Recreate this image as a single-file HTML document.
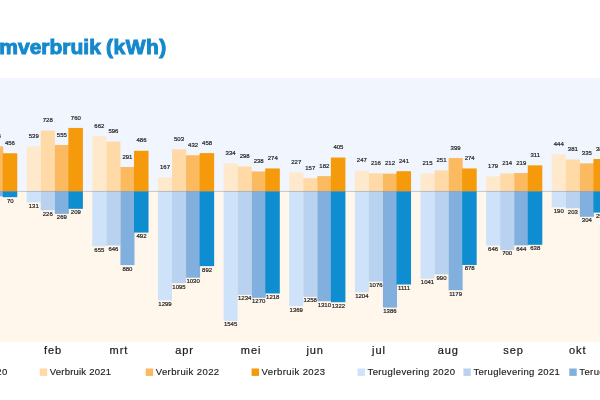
<!DOCTYPE html>
<html lang="nl">
<head>
<meta charset="utf-8">
<title>Stroomverbruik (kWh)</title>
<style>
html,body{margin:0;padding:0;background:#fff;}
body{width:600px;height:400px;overflow:hidden;}
svg{display:block;}
text{font-family:"Liberation Sans",sans-serif;}
.t{font-weight:bold;font-size:21px;fill:#1489cc;stroke:#1489cc;stroke-width:1.0px;letter-spacing:0px;}
.t2{letter-spacing:0.5px;}
.l{font-size:6px;fill:#262626;stroke:#262626;stroke-width:0.2px;text-anchor:middle;letter-spacing:0px;}
.m{font-size:11px;fill:#1c1c1c;stroke:#1c1c1c;stroke-width:0.22px;letter-spacing:0.95px;}
.g{font-size:9.5px;fill:#1c1c1c;stroke:#1c1c1c;stroke-width:0.15px;letter-spacing:0.21px;}
.g2{letter-spacing:0.33px;}
.g3{letter-spacing:0.4px;}
.g4{letter-spacing:0.39px;}
</style>
</head>
<body>
<svg width="600" height="400" viewBox="0 0 600 400">
<text class="t" x="-55.5" y="54.3">Stroomverbruik <tspan class="t2" x="106.0">(kWh)</tspan></text>
<rect x="-100" y="78" width="800" height="113.30" fill="#f1f5fd"/>
<rect x="-100" y="191.3" width="800" height="150.70" fill="#fff6ec"/>
<g>
<rect x="-10.83" y="146.43" width="14.05" height="44.87" fill="#fbba60"/>
<rect x="-10.83" y="191.30" width="14.05" height="5.03" fill="#82b0de"/>
<rect x="2.72" y="153.27" width="14.55" height="38.03" fill="#f59a0a"/>
<rect x="2.72" y="191.30" width="14.55" height="5.87" fill="#0e8dd0"/>
<rect x="26.70" y="146.35" width="14.05" height="44.95" fill="#ffe9cc"/>
<rect x="26.70" y="191.30" width="14.05" height="10.99" fill="#cee2f9"/>
<rect x="40.75" y="130.58" width="14.05" height="60.72" fill="#ffd9a6"/>
<rect x="40.75" y="191.30" width="14.05" height="18.96" fill="#b8d2ef"/>
<rect x="54.80" y="145.01" width="14.05" height="46.29" fill="#fbba60"/>
<rect x="54.80" y="191.30" width="14.05" height="22.57" fill="#82b0de"/>
<rect x="68.35" y="127.92" width="14.55" height="63.38" fill="#f59a0a"/>
<rect x="68.35" y="191.30" width="14.55" height="17.54" fill="#0e8dd0"/>
<rect x="92.33" y="136.09" width="14.05" height="55.21" fill="#ffe9cc"/>
<rect x="92.33" y="191.30" width="14.05" height="54.95" fill="#cee2f9"/>
<rect x="106.38" y="141.59" width="14.05" height="49.71" fill="#ffd9a6"/>
<rect x="106.38" y="191.30" width="14.05" height="54.20" fill="#b8d2ef"/>
<rect x="120.43" y="167.03" width="14.05" height="24.27" fill="#fbba60"/>
<rect x="120.43" y="191.30" width="14.05" height="73.83" fill="#82b0de"/>
<rect x="133.98" y="150.77" width="14.55" height="40.53" fill="#f59a0a"/>
<rect x="133.98" y="191.30" width="14.55" height="41.28" fill="#0e8dd0"/>
<rect x="157.96" y="177.37" width="14.05" height="13.93" fill="#ffe9cc"/>
<rect x="157.96" y="191.30" width="14.05" height="108.99" fill="#cee2f9"/>
<rect x="172.01" y="149.35" width="14.05" height="41.95" fill="#ffd9a6"/>
<rect x="172.01" y="191.30" width="14.05" height="91.87" fill="#b8d2ef"/>
<rect x="186.06" y="155.27" width="14.05" height="36.03" fill="#fbba60"/>
<rect x="186.06" y="191.30" width="14.05" height="86.42" fill="#82b0de"/>
<rect x="199.61" y="153.10" width="14.55" height="38.20" fill="#f59a0a"/>
<rect x="199.61" y="191.30" width="14.55" height="74.84" fill="#0e8dd0"/>
<rect x="223.59" y="163.44" width="14.05" height="27.86" fill="#ffe9cc"/>
<rect x="223.59" y="191.30" width="14.05" height="129.63" fill="#cee2f9"/>
<rect x="237.64" y="166.45" width="14.05" height="24.85" fill="#ffd9a6"/>
<rect x="237.64" y="191.30" width="14.05" height="103.53" fill="#b8d2ef"/>
<rect x="251.69" y="171.45" width="14.05" height="19.85" fill="#fbba60"/>
<rect x="251.69" y="191.30" width="14.05" height="106.55" fill="#82b0de"/>
<rect x="265.24" y="168.45" width="14.55" height="22.85" fill="#f59a0a"/>
<rect x="265.24" y="191.30" width="14.55" height="102.19" fill="#0e8dd0"/>
<rect x="289.22" y="172.37" width="14.05" height="18.93" fill="#ffe9cc"/>
<rect x="289.22" y="191.30" width="14.05" height="114.86" fill="#cee2f9"/>
<rect x="303.27" y="178.21" width="14.05" height="13.09" fill="#ffd9a6"/>
<rect x="303.27" y="191.30" width="14.05" height="105.55" fill="#b8d2ef"/>
<rect x="317.32" y="176.12" width="14.05" height="15.18" fill="#fbba60"/>
<rect x="317.32" y="191.30" width="14.05" height="109.91" fill="#82b0de"/>
<rect x="330.87" y="157.52" width="14.55" height="33.78" fill="#f59a0a"/>
<rect x="330.87" y="191.30" width="14.55" height="110.92" fill="#0e8dd0"/>
<rect x="354.85" y="170.70" width="14.05" height="20.60" fill="#ffe9cc"/>
<rect x="354.85" y="191.30" width="14.05" height="101.02" fill="#cee2f9"/>
<rect x="368.90" y="173.29" width="14.05" height="18.01" fill="#ffd9a6"/>
<rect x="368.90" y="191.30" width="14.05" height="90.28" fill="#b8d2ef"/>
<rect x="382.95" y="173.62" width="14.05" height="17.68" fill="#fbba60"/>
<rect x="382.95" y="191.30" width="14.05" height="116.29" fill="#82b0de"/>
<rect x="396.50" y="171.20" width="14.55" height="20.10" fill="#f59a0a"/>
<rect x="396.50" y="191.30" width="14.55" height="93.21" fill="#0e8dd0"/>
<rect x="420.48" y="173.37" width="14.05" height="17.93" fill="#ffe9cc"/>
<rect x="420.48" y="191.30" width="14.05" height="87.34" fill="#cee2f9"/>
<rect x="434.53" y="170.37" width="14.05" height="20.93" fill="#ffd9a6"/>
<rect x="434.53" y="191.30" width="14.05" height="83.06" fill="#b8d2ef"/>
<rect x="448.58" y="158.02" width="14.05" height="33.28" fill="#fbba60"/>
<rect x="448.58" y="191.30" width="14.05" height="98.92" fill="#82b0de"/>
<rect x="462.13" y="168.45" width="14.55" height="22.85" fill="#f59a0a"/>
<rect x="462.13" y="191.30" width="14.55" height="73.66" fill="#0e8dd0"/>
<rect x="486.11" y="176.37" width="14.05" height="14.93" fill="#ffe9cc"/>
<rect x="486.11" y="191.30" width="14.05" height="54.20" fill="#cee2f9"/>
<rect x="500.16" y="173.45" width="14.05" height="17.85" fill="#ffd9a6"/>
<rect x="500.16" y="191.30" width="14.05" height="58.73" fill="#b8d2ef"/>
<rect x="514.21" y="173.04" width="14.05" height="18.26" fill="#fbba60"/>
<rect x="514.21" y="191.30" width="14.05" height="54.03" fill="#82b0de"/>
<rect x="527.76" y="165.36" width="14.55" height="25.94" fill="#f59a0a"/>
<rect x="527.76" y="191.30" width="14.55" height="53.53" fill="#0e8dd0"/>
<rect x="551.74" y="154.27" width="14.05" height="37.03" fill="#ffe9cc"/>
<rect x="551.74" y="191.30" width="14.05" height="15.94" fill="#cee2f9"/>
<rect x="565.79" y="159.52" width="14.05" height="31.78" fill="#ffd9a6"/>
<rect x="565.79" y="191.30" width="14.05" height="17.03" fill="#b8d2ef"/>
<rect x="579.84" y="163.36" width="14.05" height="27.94" fill="#fbba60"/>
<rect x="579.84" y="191.30" width="14.05" height="25.51" fill="#82b0de"/>
<rect x="593.39" y="159.02" width="14.55" height="32.28" fill="#f59a0a"/>
<rect x="593.39" y="191.30" width="14.55" height="21.31" fill="#0e8dd0"/>
</g>
<rect x="-100" y="190.95" width="800" height="0.7" fill="#777" fill-opacity="0.55"/>
<g>
<text class="l" x="-4.30" y="138.13">538</text>
<text class="l" x="-3.80" y="201.73">60</text>
<text class="l" x="9.95" y="144.97">456</text>
<text class="l" x="10.25" y="202.57">70</text>
<text class="l" x="33.73" y="138.05">539</text>
<text class="l" x="33.73" y="207.69">131</text>
<text class="l" x="47.77" y="122.28">728</text>
<text class="l" x="47.77" y="215.66">226</text>
<text class="l" x="61.82" y="136.71">555</text>
<text class="l" x="61.82" y="219.27">269</text>
<text class="l" x="75.88" y="119.62">760</text>
<text class="l" x="75.88" y="214.24">209</text>
<text class="l" x="99.36" y="127.79">662</text>
<text class="l" x="99.36" y="251.65">655</text>
<text class="l" x="113.41" y="133.29">596</text>
<text class="l" x="113.41" y="250.90">646</text>
<text class="l" x="127.46" y="158.73">291</text>
<text class="l" x="127.46" y="270.53">880</text>
<text class="l" x="141.51" y="142.47">486</text>
<text class="l" x="141.51" y="237.98">492</text>
<text class="l" x="164.98" y="169.07">167</text>
<text class="l" x="164.98" y="305.69">1299</text>
<text class="l" x="179.03" y="141.05">503</text>
<text class="l" x="179.03" y="288.57">1095</text>
<text class="l" x="193.08" y="146.97">432</text>
<text class="l" x="193.08" y="283.12">1030</text>
<text class="l" x="207.13" y="144.80">458</text>
<text class="l" x="207.13" y="271.54">892</text>
<text class="l" x="230.61" y="155.14">334</text>
<text class="l" x="230.61" y="326.33">1545</text>
<text class="l" x="244.66" y="158.15">298</text>
<text class="l" x="244.66" y="300.23">1234</text>
<text class="l" x="258.71" y="163.15">238</text>
<text class="l" x="258.71" y="303.25">1270</text>
<text class="l" x="272.76" y="160.15">274</text>
<text class="l" x="272.76" y="298.89">1218</text>
<text class="l" x="296.24" y="164.07">227</text>
<text class="l" x="296.24" y="311.56">1369</text>
<text class="l" x="310.29" y="169.91">157</text>
<text class="l" x="310.29" y="302.25">1258</text>
<text class="l" x="324.34" y="167.82">182</text>
<text class="l" x="324.34" y="306.61">1310</text>
<text class="l" x="338.39" y="149.22">405</text>
<text class="l" x="338.39" y="307.62">1322</text>
<text class="l" x="361.87" y="162.40">247</text>
<text class="l" x="361.87" y="297.72">1204</text>
<text class="l" x="375.92" y="164.99">216</text>
<text class="l" x="375.92" y="286.98">1076</text>
<text class="l" x="389.97" y="165.32">212</text>
<text class="l" x="389.97" y="312.99">1386</text>
<text class="l" x="404.02" y="162.90">241</text>
<text class="l" x="404.02" y="289.91">1111</text>
<text class="l" x="427.50" y="165.07">215</text>
<text class="l" x="427.50" y="284.04">1041</text>
<text class="l" x="441.55" y="162.07">251</text>
<text class="l" x="441.55" y="279.76">990</text>
<text class="l" x="455.60" y="149.72">399</text>
<text class="l" x="455.60" y="295.62">1179</text>
<text class="l" x="469.65" y="160.15">274</text>
<text class="l" x="469.65" y="270.36">878</text>
<text class="l" x="493.13" y="168.07">179</text>
<text class="l" x="493.13" y="250.90">646</text>
<text class="l" x="507.18" y="165.15">214</text>
<text class="l" x="507.18" y="255.43">700</text>
<text class="l" x="521.23" y="164.74">219</text>
<text class="l" x="521.23" y="250.73">644</text>
<text class="l" x="535.28" y="157.06">311</text>
<text class="l" x="535.28" y="250.23">638</text>
<text class="l" x="558.76" y="145.97">444</text>
<text class="l" x="558.76" y="212.64">190</text>
<text class="l" x="572.81" y="151.22">381</text>
<text class="l" x="572.81" y="213.73">203</text>
<text class="l" x="586.87" y="155.06">335</text>
<text class="l" x="586.87" y="222.21">304</text>
<text class="l" x="600.91" y="150.72">387</text>
<text class="l" x="600.91" y="218.01">254</text>
</g>
<g>
<text class="m" x="43.90" y="353.5">feb</text>
<text class="m" x="109.53" y="353.5">mrt</text>
<text class="m" x="175.16" y="353.5">apr</text>
<text class="m" x="240.79" y="353.5">mei</text>
<text class="m" x="306.42" y="353.5">jun</text>
<text class="m" x="372.05" y="353.5">jul</text>
<text class="m" x="437.68" y="353.5">aug</text>
<text class="m" x="503.31" y="353.5">sep</text>
<text class="m" x="568.94" y="353.5">okt</text>
</g>
<g>
<rect x="-66.10" y="368.5" width="7.4" height="7.4" fill="#ffe9cc"/><text class="g g3" x="-56.10" y="375.0">Verbruik 2020</text>
<rect x="39.80" y="368.5" width="7.4" height="7.4" fill="#ffd9a6"/><text class="g" x="49.80" y="375.0">Verbruik 2021</text>
<rect x="145.70" y="368.5" width="7.4" height="7.4" fill="#fbba60"/><text class="g g3" x="155.70" y="375.0">Verbruik 2022</text>
<rect x="251.60" y="368.5" width="7.4" height="7.4" fill="#f59a0a"/><text class="g g3" x="261.60" y="375.0">Verbruik 2023</text>
<rect x="357.50" y="368.5" width="7.4" height="7.4" fill="#cee2f9"/><text class="g g4" x="367.50" y="375.0">Teruglevering 2020</text>
<rect x="463.40" y="368.5" width="7.4" height="7.4" fill="#b8d2ef"/><text class="g g2" x="473.40" y="375.0">Teruglevering 2021</text>
<rect x="569.30" y="368.5" width="7.4" height="7.4" fill="#82b0de"/><text class="g g4" x="579.30" y="375.0">Teruglevering 2022</text>
</g>
</svg>
</body>
</html>
